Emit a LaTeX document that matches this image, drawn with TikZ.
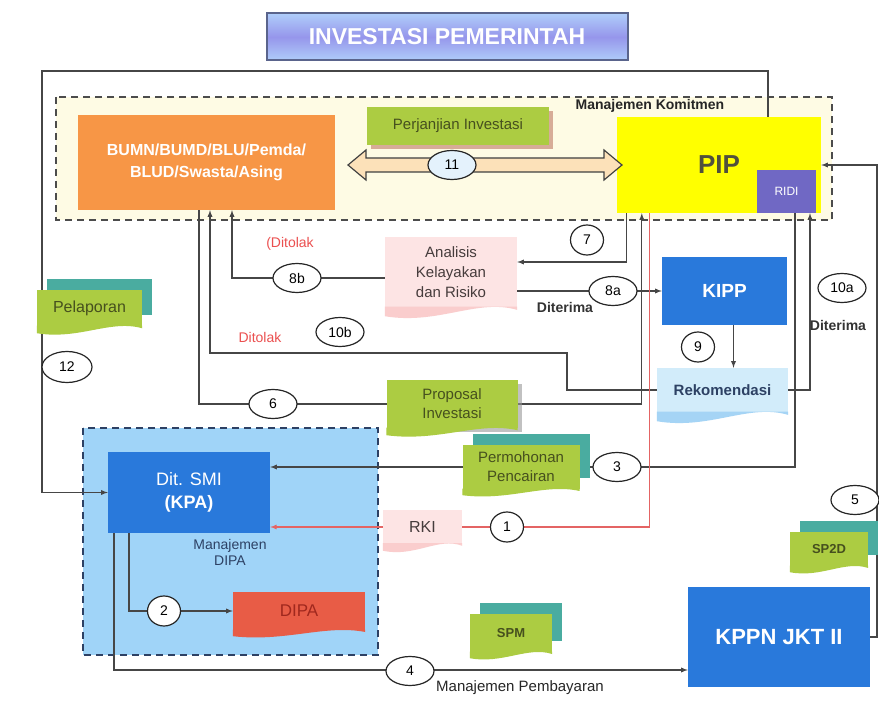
\documentclass[tikz,border=0pt]{standalone}
\usepackage{fontspec}
\setmainfont{Liberation Sans}
\usepackage{tikz}
\usetikzlibrary{calc, arrows, shapes, shadows}
\tikzset{>=latex}
\definecolor{orangebox}{RGB}{247,150,70}
\definecolor{komitfill}{RGB}{254,251,228}
\definecolor{pipyellow}{RGB}{255,255,0}
\definecolor{ridiblue}{RGB}{112,104,196}
\definecolor{notegreen}{RGB}{172,204,66}
\definecolor{noteteal}{RGB}{74,172,160}
\definecolor{notetext}{RGB}{70,80,30}
\definecolor{boxblue}{RGB}{41,121,219}
\definecolor{dipafill}{RGB}{160,212,248}
\definecolor{pinkbox}{RGB}{253,228,228}
\definecolor{pinkwave}{RGB}{250,205,205}
\definecolor{doctext}{RGB}{70,60,60}
\definecolor{rekfill}{RGB}{210,236,250}
\definecolor{rekwave}{RGB}{165,212,245}
\definecolor{dipared}{RGB}{232,92,70}
\definecolor{arrowfill}{RGB}{252,225,185}
\definecolor{circfill}{RGB}{228,242,252}
\definecolor{redline}{RGB}{228,100,100}
\definecolor{ditolak}{RGB}{235,80,80}
\definecolor{linegray}{RGB}{70,70,70}
\definecolor{navytext}{RGB}{45,65,100}

\pgfdeclarelayer{back}
\pgfdeclarelayer{lines}
\pgfsetlayers{back,lines,main}

\tikzset{
  conn/.style={draw=linegray, line width=1.3pt},
  redconn/.style={draw=redline, line width=1.2pt},
  numlabel/.style={ellipse, draw=black!85, line width=1.2pt, fill=white, minimum width=48pt, minimum height=29pt, inner sep=0pt, font=\fontsize{14}{14}\selectfont},
  numcirc/.style={numlabel, minimum width=33pt, minimum height=30pt},
  bluebox/.style={rectangle, fill=boxblue, text=white, align=center, inner sep=2pt},
  notebox/.style={rectangle, fill=notegreen, text=notetext, align=center, inner sep=2pt, font=\fontsize{15}{19}\selectfont},
  tealshadow/.style={copy shadow={shadow xshift=10pt, shadow yshift=11pt, fill=noteteal, draw=none}},
  docpink/.style={rectangle, fill=pinkbox, text=doctext, align=center, inner sep=2pt, font=\fontsize{15}{20}\selectfont},
  areabox/.style={line width=2pt, dash pattern=on 7pt off 5pt},
  redtext/.style={text=ditolak, font=\fontsize{14}{14}\selectfont},
  terima/.style={text=black!80, font=\fontsize{14}{14}\selectfont\bfseries},
}

% wavy lower edge under a box
\newcommand{\wavebottom}[3]{%
  \fill[#2] ([yshift=0.5pt]#1.south west) -- ([yshift=-#3]#1.south west)
    .. controls ([yshift=-2*#3]$(#1.south west)!0.4!(#1.south east)$) and ([yshift=#3]$(#1.south west)!0.7!(#1.south east)$) .. ([yshift=-0.3*#3]#1.south east)
    -- ([yshift=0.5pt]#1.south east) -- cycle;}

\begin{document}
\begin{tikzpicture}[x=1pt, y=-1pt]
\begin{pgfonlayer}{back}
\fill[white] (0,0) rectangle (879,708);
\draw[areabox, draw=black!70, fill=komitfill] (56,97) rectangle (832,220);
\draw[areabox, draw=navytext, fill=dipafill] (83,428) rectangle (378,655);
\end{pgfonlayer}
\useasboundingbox (0,0) rectangle (879,708);

\node[draw={rgb,255:red,90;green,100;blue,140}, line width=2pt, top color={rgb,255:red,175;green,205;blue,250}, bottom color={rgb,255:red,175;green,205;blue,250}, middle color={rgb,255:red,150;green,150;blue,235}, minimum width=361pt, minimum height=47pt, text=white, font=\fontsize{23}{23}\selectfont\bfseries] (title) at (447,37) {INVESTASI PEMERINTAH};

\node[fill=orangebox, minimum width=257pt, minimum height=95pt, align=center, text=white, font=\fontsize{16}{22}\selectfont\bfseries] (bumn) at (206.5,162.5) {BUMN/BUMD/BLU/Pemda/\\BLUD/Swasta/Asing};
\node[notebox, minimum width=182pt, minimum height=38pt, drop shadow={shadow xshift=4pt, shadow yshift=-4pt, fill={rgb,255:red,190;green,120;blue,100}, opacity=.6}] (perj) at (458,126) {Perjanjian Investasi};

\node[fill=pipyellow, minimum width=204pt, minimum height=96pt, text={rgb,255:red,80;green,80;blue,60}, font=\fontsize{26}{26}\selectfont\bfseries] (pip) at (719,165) {PIP};
\node[bluebox, fill=ridiblue, minimum width=59pt, minimum height=43pt, font=\fontsize{12}{12}\selectfont] (ridi) at (786.5,191.5) {RIDI};
\node[font=\fontsize{14}{14}\selectfont\bfseries, text=black!85] (komit) at (650,106) {Manajemen Komitmen};

\filldraw[fill=arrowfill, draw=black!75, line width=1.2pt] (348,165) -- (366,150) -- (366,158) -- (604,158) -- (604,150) -- (622,165) -- (604,180) -- (604,172) -- (366,172) -- (366,180) -- cycle;
\node[numlabel, fill=circfill] (n11) at (452,165) {11};

\node[docpink, minimum width=132pt, minimum height=70pt] (ana) at (451,272) {Analisis\\Kelayakan\\dan Risiko};
\wavebottom{ana}{pinkwave}{9pt}
\node[bluebox, minimum width=125pt, minimum height=68pt, font=\fontsize{19}{19}\selectfont\bfseries] (kipp) at (724.5,291) {KIPP};
\node[fill=rekfill, minimum width=131pt, minimum height=44pt, text=navytext, font=\fontsize{15}{15}\selectfont\bfseries] (rek) at (722.5,390) {Rekomendasi};
\wavebottom{rek}{rekwave}{9pt}

\node[notebox, tealshadow, minimum width=105pt, minimum height=36pt, font=\fontsize{16}{16}\selectfont] (lapor) at (89.5,308) {Pelaporan};
\wavebottom{lapor}{notegreen}{7pt}
\node[notebox, minimum width=131pt, minimum height=48pt, drop shadow={shadow xshift=4pt, shadow yshift=-4pt, fill=black!40, opacity=.6}] (prop) at (452,404) {Proposal\\Investasi};
\wavebottom{prop}{notegreen}{7pt}
\node[notebox, tealshadow, minimum width=117pt, minimum height=44pt] (mohon) at (521,467) {Permohonan\\Pencairan};
\wavebottom{mohon}{notegreen}{6pt}
\node[docpink, minimum width=79pt, minimum height=33pt, font=\fontsize{16}{16}\selectfont] (rki) at (422.5,527) {RKI};
\wavebottom{rki}{pinkwave}{7pt}

\node[bluebox, minimum width=162pt, minimum height=81pt, font=\fontsize{18}{23}\selectfont] (smi) at (189,492.5) {Dit. SMI\\\textbf{(KPA)}};
\node[align=center, text=navytext, font=\fontsize{14}{16}\selectfont] (mdipa) at (230,552) {Manajemen\\DIPA};
\node[fill=dipared, minimum width=132pt, minimum height=38pt, text={rgb,255:red,160;green,40;blue,30}, font=\fontsize{17}{17}\selectfont] (dipa) at (299,611) {DIPA};
\wavebottom{dipa}{dipared}{6pt}
\node[notebox, tealshadow, minimum width=82pt, minimum height=38pt, font=\fontsize{13}{13}\selectfont\bfseries] (spm) at (511,633) {SPM};
\wavebottom{spm}{notegreen}{6pt}
\node[notebox, tealshadow, minimum width=78pt, minimum height=34pt, font=\fontsize{13}{13}\selectfont\bfseries] (sp2d) at (829,549) {SP2D};
\wavebottom{sp2d}{notegreen}{6pt}
\node[bluebox, minimum width=182pt, minimum height=100pt, font=\fontsize{22}{22}\selectfont\bfseries] (kppn) at (779,637) {KPPN JKT II};

\node[numcirc] (n1) at (507,527) {1};
\node[numcirc] (n2) at (164,611) {2};
\node[numlabel] (n3) at (617,467) {3};
\node[numlabel] (n4) at (410,671) {4};
\node[numlabel] (n5) at (855,500) {5};
\node[numlabel] (n6) at (273,404) {6};
\node[numcirc] (n7) at (587,240) {7};
\node[numlabel] (n8a) at (613,291) {8a};
\node[numlabel] (n8b) at (297,278) {8b};
\node[numcirc] (n9) at (698,347) {9};
\node[numlabel] (n10a) at (842,288) {10a};
\node[numlabel] (n10b) at (340,332) {10b};
\node[numlabel, minimum width=50pt, minimum height=31pt] (n12) at (67,367) {12};

\node[redtext] (tolak1) at (290,244) {(Ditolak};
\node[redtext] (tolak2) at (260,337) {Ditolak};
\node[terima] (terima1) at (565,307) {Diterima};
\node[terima] (terima2) at (838,325) {Diterima};
\node[text=black!85, font=\fontsize{15}{15}\selectfont] (mbayar) at (520,688) {Manajemen Pembayaran};

\coordinate (c12) at (42,71);
\coordinate (c10b) at (567,353);
\coordinate (c5) at (877,400);

\begin{pgfonlayer}{lines}
\draw[conn,->] ([xshift=49pt]pip.north) |- (c12) |- (smi.west);
\draw[conn,->] ([xshift=10pt]pip.south west) |- ([yshift=10pt]ana.east);
\draw[conn,->] ([yshift=-6pt]ana.west) -| ([xshift=25.5pt]bumn.south);
\draw[conn,->] ([yshift=-19pt]ana.east) -- (kipp.west);
\draw[conn,->] ([xshift=9pt]kipp.south) -- ([xshift=9pt]kipp.south |- rek.north);
\draw[conn,->] (rek.east) -| ([xshift=23.5pt]ridi.south);
\draw[conn,->] (rek.west) -| (c10b) -| ([xshift=3.5pt]bumn.south);
\draw[conn,->] ([xshift=-7.5pt]bumn.south) |- (prop.west) -- (prop.east) -| ([xshift=25pt]pip.south west);
\draw[conn,->] ([xshift=8.5pt]ridi.south) |- (smi.east |- mohon.west);
\draw[redconn,->] ([xshift=33pt]pip.south west) |- (smi.east |- rki.west);
\draw[conn,->] ([xshift=-60pt]smi.south) |- (dipa.west);
\draw[conn,->] ([xshift=-75pt]smi.south) |- ([yshift=-33pt]kppn.west);
\draw[conn,->] (kppn.east) -| (c5) |- (pip.east);
\end{pgfonlayer}
\end{tikzpicture}
\end{document}
